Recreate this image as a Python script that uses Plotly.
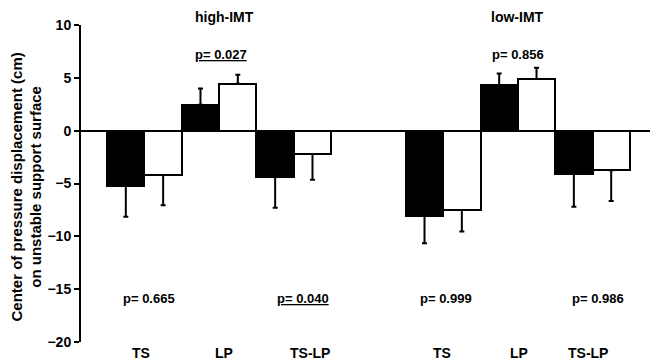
import plotly.graph_objects as go

# ---- data ----
groups = ["high-IMT", "low-IMT"]
categories = ["TS", "LP", "TS-LP"]

# black bars (first condition) per group, per category
black_high = [-5.2, 2.45, -4.35]
black_low = [-8.05, 4.3, -4.1]
black_high_err = [2.95, 1.55, 2.95]
black_low_err = [2.6, 1.1, 3.1]

# white bars (second condition)
white_high = [-4.2, 4.45, -2.2]
white_low = [-7.5, 4.9, -3.75]
white_high_err = [2.85, 0.85, 2.45]
white_low_err = [2.05, 1.05, 2.9]

# p-values
p_top = ["0.027", "0.856"]            # LP comparison, per group
p_bottom_high = ["0.665", "0.040"]    # TS, TS-LP in high-IMT
p_bottom_low = ["0.999", "0.986"]     # TS, TS-LP in low-IMT

y_ticks = [-20, -15, -10, -5, 0, 5, 10]

# ---- build ----
FONT = "Liberation Sans, Arial, sans-serif"
gap = len(categories) + 1
xpos = [g * gap + c for g in range(len(groups)) for c in range(len(categories))]
black_vals = black_high + black_low
white_vals = white_high + white_low
black_err = black_high_err + black_low_err
white_err = white_high_err + white_low_err


def split_err(vals, errs):
    up = [e if v >= 0 else 0 for v, e in zip(vals, errs)]
    dn = [e if v < 0 else 0 for v, e in zip(vals, errs)]
    return up, dn


fig = go.Figure()
for vals, errs, fill in [(black_vals, black_err, "black"), (white_vals, white_err, "white")]:
    up, dn = split_err(vals, errs)
    fig.add_trace(go.Bar(
        x=xpos, y=vals,
        marker=dict(color=fill, line=dict(color="black", width=2)),
        error_y=dict(type="data", symmetric=False, array=up, arrayminus=dn,
                     color="black", thickness=2, width=2.5),
        showlegend=False,
    ))

annots = []
# group titles
for g, name in enumerate(groups):
    annots.append(dict(x=g * gap + 1, y=10, xref="x", yref="y", text=name,
                       showarrow=False, yanchor="middle", yshift=8,
                       xshift=5 if g == 0 else 0,
                       font=dict(size=14, family=FONT, color="black", weight="bold")))


def ptxt(p):
    t = "p= " + p
    return "<u>" + t + "</u>" if float(p) < 0.05 else t


# top p-values (LP)
for g, p in enumerate(p_top):
    annots.append(dict(x=g * gap + 1, y=7.2, xref="x", yref="y", text=ptxt(p),
                       showarrow=False, xshift=2 if g == 0 else 0,
                       font=dict(size=13, family=FONT, color="black", weight="bold")))
# bottom p-values (TS, TS-LP)
bottom_shifts = [5, 9, 3, 5]
for i, (g, c, p) in enumerate([(0, 0, p_bottom_high[0]), (0, 2, p_bottom_high[1]),
                               (1, 0, p_bottom_low[0]), (1, 2, p_bottom_low[1])]):
    annots.append(dict(x=g * gap + c, y=-15.85, xref="x", yref="y", text=ptxt(p),
                       showarrow=False, xshift=bottom_shifts[i],
                       font=dict(size=13, family=FONT, color="black", weight="bold")))
# category labels
label_shifts = [-3, 5, 16, -1, 1, -5]
for i, x in enumerate(xpos):
    annots.append(dict(x=x, y=0, xref="x", yref="paper", text=categories[i % len(categories)],
                       showarrow=False, yanchor="top", yshift=-2, xshift=label_shifts[i],
                       borderpad=0,
                       font=dict(size=14, family=FONT, color="black", weight="bold")))
# y-axis title
annots.append(dict(x=0, y=0.5, xref="paper", yref="paper",
                   text="Center of pressure displacement (cm)<br>on unstable support surface",
                   textangle=-90, showarrow=False, xanchor="center", yanchor="middle",
                   xshift=-55, yshift=-4,
                   font=dict(size=15, family=FONT, color="black", weight="bold")))

# page body has an 8px default margin; compensate so the chart sits like the reference
fig.update_layout(
    width=650, height=354,
    margin=dict(l=73, r=2, t=17, b=20),
    paper_bgcolor="white", plot_bgcolor="white",
    barmode="group", bargap=0, bargroupgap=0,
    annotations=annots,
    xaxis=dict(range=[-0.85, 6.85], showticklabels=False, showgrid=False,
               zeroline=False, showline=False, ticks=""),
    yaxis=dict(range=[-20, 10], tickvals=y_ticks, showgrid=False,
               showline=True, linecolor="black", linewidth=2,
               ticks="outside", ticklen=5, tickwidth=2, tickcolor="black",
               zeroline=True, zerolinecolor="black", zerolinewidth=2,
               tickfont=dict(size=14, family=FONT, color="black", weight="bold")),
)

fig.write_html("out.html")
